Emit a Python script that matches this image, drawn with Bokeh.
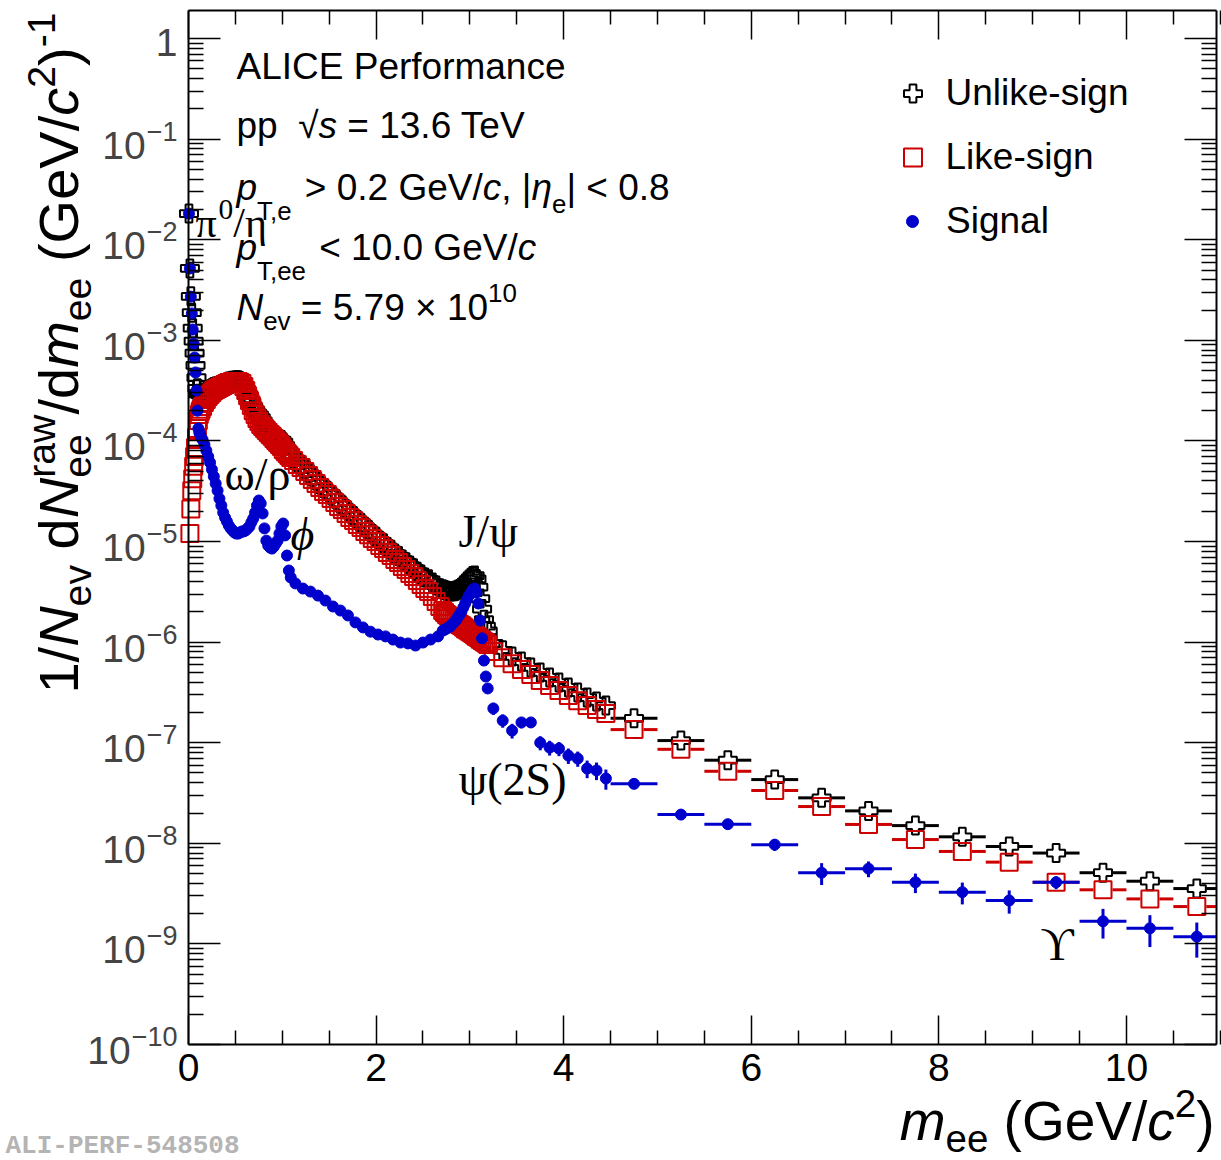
import numpy as np
from bokeh.plotting import figure
from bokeh.models import (Range1d, LogAxis, LinearAxis, FixedTicker, Label, Legend,
                          LegendItem, ColumnDataSource)
from bokeh.embed import file_html
from bokeh.resources import INLINE

# ---------------- data ----------------
# bin centres, GeV/c^2
XA = [0.005, 0.015, 0.025, 0.035, 0.045, 0.055, 0.065, 0.075, 0.085, 0.095, 0.105, 0.115, 0.125, 0.135]
XB = [0.15, 0.17, 0.19, 0.21, 0.23, 0.25, 0.27, 0.29, 0.31, 0.33, 0.35, 0.37, 0.39, 0.41, 0.43, 0.45,
      0.47, 0.49, 0.51, 0.53, 0.55, 0.57, 0.59, 0.61, 0.63, 0.65, 0.67, 0.69, 0.71, 0.73, 0.75, 0.77,
      0.79, 0.81, 0.83, 0.85, 0.87, 0.89, 0.91, 0.93, 0.95, 0.97, 0.99, 1.01, 1.03, 1.05, 1.07, 1.09]
XC = [1.12, 1.16, 1.20, 1.24, 1.28, 1.32, 1.36, 1.40, 1.44, 1.48, 1.52, 1.56, 1.60, 1.64, 1.68, 1.72,
      1.76, 1.80, 1.84, 1.88, 1.92, 1.96, 2.00, 2.04, 2.08, 2.12, 2.16, 2.20, 2.24, 2.28, 2.32, 2.36,
      2.40, 2.44, 2.48, 2.52, 2.56, 2.60, 2.64, 2.68]
XSC = [1.14, 1.22, 1.30, 1.38, 1.46, 1.54, 1.62, 1.70, 1.78, 1.86, 1.94, 2.02, 2.10, 2.18, 2.26, 2.34,
       2.42, 2.50, 2.58, 2.66]
XD = [2.71, 2.73, 2.75, 2.77, 2.79, 2.81, 2.83, 2.85, 2.87, 2.89, 2.91, 2.93, 2.95, 2.97, 2.99, 3.01,
      3.03, 3.05, 3.07, 3.09, 3.11, 3.13, 3.15, 3.17, 3.19]
XE = [3.25, 3.35, 3.45, 3.55, 3.65, 3.75, 3.85, 3.95, 4.05, 4.15, 4.25, 4.35, 4.45]
XF = [4.75, 5.25, 5.75, 6.25, 6.75, 7.25, 7.75, 8.25, 8.75, 9.25, 9.75, 10.25, 10.75]
# half bin widths
HW_A, HW_B, HW_C, HW_SC, HW_D, HW_E, HW_F = 0.005, 0.01, 0.02, 0.04, 0.01, 0.05, 0.25

NAN = float("nan")
# Unlike-sign
US_A = [1.82e-2, 5.19e-3, 2.74e-3, 1.88e-3, 1.32e-3, 9.84e-4, 7.45e-4, 5.64e-4, 4.25e-4, 3.33e-4,
        2.93e-4, 2.95e-4, 2.90e-4, 2.85e-4]
US_B = [2.82e-4, 2.96e-4, 3.06e-4, 3.18e-4, 3.26e-4, 3.34e-4, 3.44e-4, 3.47e-4, 3.51e-4, 3.56e-4,
        3.62e-4, 3.68e-4, 3.74e-4, 3.81e-4, 3.90e-4, 3.89e-4, 3.97e-4, 3.96e-4, 4.01e-4, 4.01e-4,
        3.93e-4, 3.85e-4, 3.61e-4, 3.30e-4, 2.96e-4, 2.66e-4, 2.41e-4, 2.17e-4, 2.02e-4, 1.90e-4,
        1.82e-4, 1.70e-4, 1.58e-4, 1.47e-4, 1.37e-4, 1.30e-4, 1.25e-4, 1.20e-4, 1.15e-4, 1.11e-4,
        1.07e-4, 1.04e-4, 1.02e-4, 9.71e-5, 9.00e-5, 8.23e-5, 7.68e-5, 7.28e-5]
US_C = [6.78e-5, 6.19e-5, 5.79e-5, 5.30e-5, 4.84e-5, 4.43e-5, 4.06e-5, 3.72e-5, 3.41e-5, 3.19e-5,
        2.92e-5, 2.68e-5, 2.45e-5, 2.29e-5, 2.09e-5, 1.91e-5, 1.79e-5, 1.64e-5, 1.53e-5, 1.40e-5,
        1.30e-5, 1.19e-5, 1.115e-5, 1.02e-5, 9.60e-6, 8.83e-6, 8.28e-6, 7.62e-6, 7.16e-6, 6.61e-6,
        6.23e-6, 5.76e-6, 5.42e-6, 5.02e-6, 4.69e-6, 4.39e-6, 4.21e-6, 3.91e-6, 3.65e-6, 3.43e-6]
US_D = [3.36e-6, 3.30e-6, 3.24e-6, 3.22e-6, 3.19e-6, 3.20e-6, 3.21e-6, 3.24e-6, 3.31e-6, 3.38e-6,
        3.47e-6, 3.62e-6, 3.78e-6, 3.98e-6, 4.19e-6, 4.36e-6, 4.55e-6, 4.59e-6, 4.25e-6, 3.53e-6,
        2.71e-6, 2.13e-6, 1.67e-6, 1.44e-6, 1.29e-6]
US_E = [9.7e-7, 8.3e-7, 7.2e-7, 6.4e-7, 5.6e-7, 5.0e-7, 4.45e-7, 3.96e-7, 3.54e-7, 3.15e-7, 2.81e-7,
        2.57e-7, 2.34e-7]
US_F = [1.75e-7, 1.05e-7, 6.7e-8, 4.3e-8, 2.83e-8, 2.1e-8, 1.5e-8, 1.16e-8, 9.3e-9, 8.0e-9, 5.1e-9,
        4.2e-9, 3.55e-9]
# Like-sign
LS_A = [NAN, 1.2e-5, 2.1e-5, 3.2e-5, 4.2e-5, 5.6e-5, 7.0e-5, 8.6e-5, 1.08e-4, 1.33e-4, 1.60e-4,
        1.83e-4, 1.96e-4, 2.07e-4]
LS_B = [2.20e-4, 2.41e-4, 2.58e-4, 2.76e-4, 2.89e-4, 3.03e-4, 3.17e-4, 3.24e-4, 3.32e-4, 3.40e-4,
        3.48e-4, 3.56e-4, 3.64e-4, 3.72e-4, 3.81e-4, 3.81e-4, 3.89e-4, 3.89e-4, 3.89e-4, 3.89e-4,
        3.81e-4, 3.72e-4, 3.48e-4, 3.17e-4, 2.82e-4, 2.52e-4, 2.25e-4, 2.00e-4, 1.83e-4, 1.67e-4,
        1.56e-4, 1.46e-4, 1.39e-4, 1.33e-4, 1.27e-4, 1.21e-4, 1.16e-4, 1.11e-4, 1.06e-4, 1.01e-4,
        9.64e-5, 9.20e-5, 8.80e-5, 8.20e-5, 7.85e-5, 7.50e-5, 7.16e-5, 6.84e-5]
LS_C = [6.38e-5, 5.82e-5, 5.44e-5, 4.97e-5, 4.53e-5, 4.13e-5, 3.77e-5, 3.44e-5, 3.14e-5, 2.93e-5,
        2.67e-5, 2.44e-5, 2.23e-5, 2.08e-5, 1.90e-5, 1.73e-5, 1.62e-5, 1.48e-5, 1.38e-5, 1.26e-5,
        1.17e-5, 1.07e-5, 1.00e-5, 9.12e-6, 8.51e-6, 7.78e-6, 7.26e-6, 6.62e-6, 6.18e-6, 5.64e-6,
        5.27e-6, 4.81e-6, 4.49e-6, 4.09e-6, 3.74e-6, 3.41e-6, 3.18e-6, 2.84e-6, 2.53e-6, 2.26e-6]
LS_D = [2.06e-6, 1.97e-6, 1.88e-6, 1.82e-6, 1.76e-6, 1.70e-6, 1.64e-6, 1.60e-6, 1.55e-6, 1.50e-6,
        1.46e-6, 1.41e-6, 1.36e-6, 1.33e-6, 1.29e-6, 1.25e-6, 1.22e-6, 1.18e-6, 1.14e-6, 1.11e-6,
        1.07e-6, 1.04e-6, 1.01e-6, 9.8e-7, 9.47e-7]
LS_E = [8.07e-7, 7.0e-7, 6.1e-7, 5.35e-7, 4.77e-7, 4.15e-7, 3.7e-7, 3.3e-7, 2.94e-7, 2.62e-7, 2.34e-7,
        2.14e-7, 1.95e-7]
LS_F = [1.35e-7, 8.6e-8, 5.2e-8, 3.35e-8, 2.32e-8, 1.54e-8, 1.09e-8, 8.3e-9, 6.5e-9, 4.1e-9, 3.45e-9,
        2.8e-9, 2.35e-9]
# Signal
SG_A = [1.82e-2, 5.18e-3, 2.72e-3, 1.85e-3, 1.28e-3, 9.29e-4, 6.75e-4, 4.79e-4, 3.17e-4, 2.00e-4,
        1.33e-4, 1.21e-4, 1.16e-4, 1.08e-4]
SG_B = [1.03e-4, 9.2e-5, 8.03e-5, 7.0e-5, 6.1e-5, 5.2e-5, 4.43e-5, 3.77e-5, 3.21e-5, 2.67e-5,
        2.28e-5, 1.94e-5, 1.73e-5, 1.58e-5, 1.44e-5, 1.35e-5, 1.29e-5, 1.23e-5, 1.20e-5, 1.20e-5,
        1.23e-5, 1.26e-5, 1.26e-5, 1.29e-5, 1.35e-5, 1.41e-5, 1.55e-5, 1.69e-5, 1.94e-5, 2.28e-5,
        2.56e-5, 2.39e-5, 1.90e-5, 1.35e-5, 1.02e-5, 9.12e-6, 8.71e-6, 8.51e-6, 8.91e-6, 9.55e-6,
        1.02e-5, 1.20e-5, 1.41e-5, 1.51e-5, 1.15e-5, 7.26e-6, 5.15e-6, 4.39e-6]
SG_C = [3.83e-6, 3.41e-6, 3.18e-6, 2.90e-6, 2.59e-6, 2.26e-6, 2.06e-6, 1.84e-6, 1.57e-6, 1.40e-6,
        1.27e-6, 1.19e-6, 1.14e-6, 1.06e-6, 9.9e-7, 9.7e-7, 9.25e-7, 9.9e-7, 1.06e-6, 1.14e-6]
SG_D = [1.30e-6, 1.33e-6, 1.36e-6, 1.40e-6, 1.43e-6, 1.50e-6, 1.57e-6, 1.64e-6, 1.76e-6, 1.88e-6,
        2.01e-6, 2.21e-6, 2.42e-6, 2.65e-6, 2.90e-6, 3.11e-6, 3.33e-6, 3.41e-6, 3.11e-6, 2.42e-6,
        1.64e-6, 1.09e-6, 6.56e-7, 4.55e-7, 3.46e-7]
SG_E = [2.19e-7, 1.66e-7, 1.32e-7, 1.59e-7, 1.59e-7, 1.0e-7, 8.95e-8, 8.75e-8, 7.45e-8, 6.96e-8,
        5.54e-8, 5.3e-8, 4.41e-8]
SG_E_ERR = [3.0e-8, 2.5e-8, 2.2e-8, 2.0e-8, 1.9e-8, 1.6e-8, 1.5e-8, 1.4e-8, 1.3e-8, 1.2e-8, 1.1e-8,
            1.05e-8, 1.0e-8]
SG_F = [3.9e-8, 1.93e-8, 1.55e-8, 9.7e-9, 5.1e-9, 5.6e-9, 4.1e-9, 3.27e-9, 2.7e-9, 4.1e-9, 1.68e-9,
        1.43e-9, 1.18e-9]
SG_F_ERR = [3.0e-9, 2.2e-9, 1.8e-9, 1.3e-9, 1.25e-9, 1.0e-9, 0.9e-9, 0.8e-9, 0.7e-9, 0.6e-9,
            0.55e-9, 0.5e-9, 0.45e-9]

Y_EXPONENTS = [0, -1, -2, -3, -4, -5, -6, -7, -8, -9, -10]
X_MAJOR = [0, 2, 4, 6, 8, 10]
SERIES_NAMES = ["Unlike-sign", "Like-sign", "Signal"]

# ---------------- assemble ----------------
x_bg = np.array(XA + XB + XC + XD + XE + XF)
hw_bg = np.array([HW_A] * len(XA) + [HW_B] * len(XB) + [HW_C] * len(XC) + [HW_D] * len(XD)
                 + [HW_E] * len(XE) + [HW_F] * len(XF))
us = np.array(US_A + US_B + US_C + US_D + US_E + US_F)
ls = np.array(LS_A + LS_B + LS_C + LS_D + LS_E + LS_F)
x_sg = np.array(XA + XB + XSC + XD + XE + XF)
sg = np.array(SG_A + SG_B + SG_C + SG_D + SG_E + SG_F)
x_sg_err = np.array(XE + XF)
hw_sg_err = np.array([HW_E] * len(XE) + [HW_F] * len(XF))
y_sg_err = np.array(SG_E + SG_F)
e_sg = np.array(SG_E_ERR + SG_F_ERR)

# ---------------- geometry ----------------
X_MIN, X_MAX = 0.0, 10.96
Y_MIN, Y_MAX = 1e-10, 1.9
W, H = 1221, 1160
FL, FR, FT, FB = 188, 1216, 10, 1044       # axis box inside the canvas (px)
SX = (FR - FL) / (X_MAX - X_MIN)           # px per GeV
SY = (FB - FT) / (np.log10(Y_MAX) - np.log10(Y_MIN))  # px per decade
x_lo = X_MIN - FL / SX
x_hi = X_MAX + (W - FR) / SX
y_lo = 10 ** (np.log10(Y_MIN) - (H - FB) / SY)
y_hi = 10 ** (np.log10(Y_MAX) + FT / SY)

SANS = "Liberation Sans"
SERIF = "Liberation Serif"
RED = "#cc0000"
BLUE = "#0000cc"

p = figure(width=W, height=H, x_range=Range1d(x_lo, x_hi), y_range=Range1d(y_lo, y_hi),
           y_axis_type="log", output_backend="svg", toolbar_location=None, min_border=0)
p.grid.visible = False
p.outline_line_color = None
p.background_fill_color = "white"
p.border_fill_color = "white"

x_minor = [m * 0.5 for m in range(0, 23) if m % 4 != 0]
y_major = [10.0 ** k for k in Y_EXPONENTS]
y_minor = [m * 10.0 ** k for k in Y_EXPONENTS for m in range(2, 10) if m * 10.0 ** k < Y_MAX]
xt = FixedTicker(ticks=X_MAJOR, minor_ticks=x_minor)
yt = FixedTicker(ticks=y_major, minor_ticks=y_minor)


def style_axis(ax, major, minor, loc, bounds, ticks=None):
    ax.fixed_location = loc
    ax.bounds = bounds
    ax.major_tick_in = major
    ax.major_tick_out = 0
    ax.minor_tick_in = minor
    ax.minor_tick_out = 0
    ax.axis_line_width = 2
    ax.axis_line_color = "black"
    ax.major_tick_line_width = 1.5
    ax.minor_tick_line_width = 1.5
    if ticks is not None:  # hide the axis' own labels
        ax.major_label_text_font_size = "1px"
        ax.major_label_standoff = 0
        ax.major_label_overrides = {t: "" for t in ticks}


xa = p.xaxis[0]
xa.ticker = xt
style_axis(xa, 29, 14, Y_MIN, (X_MIN, X_MAX))
xa.major_label_text_font = SANS
xa.major_label_text_font_size = "39px"
xa.major_label_standoff = 9
xa.major_label_text_color = "black"

ya = p.yaxis[0]
ya.ticker = yt
style_axis(ya, 32, 15, X_MIN, (Y_MIN, Y_MAX), ticks=y_major)

top = LinearAxis(ticker=xt)
style_axis(top, 29, 14, Y_MAX, (X_MIN, X_MAX), ticks=X_MAJOR)
p.add_layout(top, "above")
right = LogAxis(ticker=yt)
style_axis(right, 32, 15, X_MAX, (Y_MIN, Y_MAX), ticks=y_major)
p.add_layout(right, "right")


# ---------------- data glyphs ----------------
def gap_bars(x, y, hw, gap):
    m = (hw > gap) & np.isfinite(y)
    return dict(x0=np.concatenate([x[m] - hw[m], x[m] + gap]),
                x1=np.concatenate([x[m] - gap, np.minimum(x[m] + hw[m], X_MAX)]),
                y=np.concatenate([y[m], y[m]]))


# Unlike-sign
p.segment(x0="x0", y0="y", x1="x1", y1="y",
          source=ColumnDataSource(gap_bars(x_bg, us, hw_bg, 9.5 / SX)),
          line_color="black", line_width=3)
r_us = p.scatter(x_bg, us, marker="plus", size=18, line_color="black", line_width=2,
                 fill_color=None)
# Like-sign
p.segment(x0="x0", y0="y", x1="x1", y1="y",
          source=ColumnDataSource(gap_bars(x_bg, ls, hw_bg, 9.5 / SX)),
          line_color=RED, line_width=3)
r_ls = p.scatter(x_bg, ls, marker="square", size=17, line_color=RED, line_width=2, fill_color=None)
# Signal
p.segment(x0=x_sg_err - hw_sg_err, y0=y_sg_err, x1=np.minimum(x_sg_err + hw_sg_err, X_MAX),
          y1=y_sg_err, line_color=BLUE, line_width=3)
p.segment(x0=x_sg_err, y0=y_sg_err - e_sg, x1=x_sg_err, y1=y_sg_err + e_sg,
          line_color=BLUE, line_width=3)
r_sg = p.scatter(x_sg, sg, marker="circle", size=11, line_color=BLUE, fill_color=BLUE)

# ---------------- legend ----------------
LEG_X, LEG_Y = 912, [93, 157, 221]       # glyph centre column / row centres (px)
for name, r, gw, cy, standoff in [(SERIES_NAMES[0], r_us, 45, LEG_Y[0], 11),
                                  (SERIES_NAMES[1], r_ls, 45, LEG_Y[1], 11),
                                  (SERIES_NAMES[2], r_sg, 30, LEG_Y[2], 19)]:
    lg = Legend(items=[LegendItem(label=name, renderers=[r])],
                location=(LEG_X - gw / 2, H - (cy + 25)),
                glyph_width=gw, glyph_height=50, label_height=50, label_standoff=standoff,
                padding=0, margin=0, spacing=0, border_line_alpha=0, background_fill_alpha=0,
                label_text_font=SANS, label_text_font_size="37px", label_text_color="black")
    p.add_layout(lg)

# ---------------- text helpers ----------------
HELV = {' ': .278, '(': .333, ')': .333, ',': .278, '-': .333, '.': .278, '/': .278, '<': .584,
        '=': .584, '>': .584, '|': .26, '×': .584, '−': .584, '√': .549, 'A': .667, 'C': .722,
        'E': .667, 'G': .778, 'I': .278, 'L': .556, 'N': .722, 'P': .667, 'S': .667, 'T': .611,
        'U': .722, 'V': .667, 'a': .556, 'c': .5, 'd': .556, 'e': .556, 'f': .278, 'g': .556,
        'i': .222, 'k': .5, 'l': .222, 'm': .833, 'n': .556, 'o': .556, 'p': .556, 'r': .333,
        's': .5, 'v': .5, 'w': .722, 'η': .556}
TIMES = {' ': .25, 'π': .55, '0': .5, '/': .278, 'η': .5}
MID = 0.35   # distance (em) from baseline to the "middle" anchor


def tw(s, size, table=HELV):
    return sum(table.get(c, 0.556) for c in s) * size


def rich(segs, x, y, xo, yo, size, font=SANS, table=HELV, angle=0.0, align="left", color="black"):
    """segs: (text, italic, scale, dy_em, adv_em_or_None); xo/yo locate the baseline start."""
    items, adv = [], 0.0
    for seg in segs:
        text, it, scale, dy = seg[:4]
        advo = seg[4] if len(seg) > 4 else None
        fs = size * scale
        lead = len(text) - len(text.lstrip(" "))
        items.append((text.strip(" "), it, fs, dy * size, adv + tw(" " * lead, fs, table)))
        adv += tw(text, fs, table) if advo is None else advo * size
    start = -adv if align == "right" else 0.0
    for text, it, fs, d, a in items:
        a += start
        up = d + MID * fs
        if angle == 0:
            ox, oy = xo + a, yo + up
        else:
            ox, oy = xo - up, yo + a
        p.add_layout(Label(x=x, y=y, x_offset=float(ox), y_offset=float(oy), text=text,
                           text_font=font, text_font_size=f"{fs:.1f}px",
                           text_font_style="italic" if it else "normal", angle=float(angle),
                           text_align="left", text_baseline="middle", text_color=color))


# y tick labels
TK, TKE = 39, 27
for k in Y_EXPONENTS:
    v = 10.0 ** k
    if k == 0:
        p.add_layout(Label(x=X_MIN, y=v, x_offset=-11, y_offset=-4, text="1", text_font=SANS,
                           text_font_size=f"{TK}px", text_align="right", text_baseline="middle"))
    else:
        ex = "−%d" % (-k)
        p.add_layout(Label(x=X_MIN, y=v, x_offset=-11, y_offset=8, text=ex, text_font=SANS,
                           text_font_size=f"{TKE}px", text_align="right", text_baseline="middle"))
        p.add_layout(Label(x=X_MIN, y=v, x_offset=float(-11 - tw(ex, TKE) - 1), y_offset=-6,
                           text="10", text_font=SANS, text_font_size=f"{TK}px", text_align="right",
                           text_baseline="middle"))

# axis titles
rich([("1/", 0, 1, 0), ("N", 1, 1, 0), ("ev", 0, .7, -.22), (" d", 0, 1, 0), ("N", 1, 1, 0),
      ("raw", 0, .7, .42, 0), ("ee", 0, .7, -.22, 1.13), ("/d", 0, 1, 0), ("m", 1, 1, 0),
      ("ee", 0, .7, -.22), (" (GeV/", 0, 1, 0), ("c", 1, 1, 0), ("2", 0, .7, .42), (")", 0, 1, 0),
      ("-1", 0, .7, .42)],
     X_MIN, Y_MAX, -110, -2, 56, angle=np.pi / 2, align="right")
rich([("m", 1, 1, 0), ("ee", 0, .7, -.2), (" (GeV/", 0, 1, 0), ("c", 1, 1, 0), ("2", 0, .7, .42),
      (")", 0, 1, 0)],
     X_MAX, Y_MIN, -2, -96, 55, align="right")

# header text block
TS = 37
rich([("ALICE Performance", 0, 1, 0)], X_MIN, Y_MAX, 48, -69, TS)
rich([("pp  ", 0, 1, 0), ("√", 0, 1, 0), ("s", 1, 1, 0), (" = 13.6 TeV", 0, 1, 0)],
     X_MIN, Y_MAX, 48, -128, TS)
rich([("p", 1, 1, 0), ("T,e", 0, .7, -.54), (" > 0.2 GeV/", 0, 1, 0), ("c", 1, 1, 0), (", |", 0, 1, 0),
      ("η", 1, 1, 0), ("e", 0, .7, -.35), ("| < 0.8", 0, 1, 0)], X_MIN, Y_MAX, 48, -190, TS)
rich([("p", 1, 1, 0), ("T,ee", 0, .7, -.54), (" < 10.0 GeV/", 0, 1, 0), ("c", 1, 1, 0)],
     X_MIN, Y_MAX, 48, -250, TS)
rich([("N", 1, 1, 0), ("ev", 0, .7, -.27), (" = 5.79 × 10", 0, 1, 0), ("10", 0, .7, .49)],
     X_MIN, Y_MAX, 48, -310, TS)

# resonance labels (anchored at their baseline start, data coordinates)
RS = 46
rich([("π", 0, 1, 0), ("0", 0, .7, .42), ("/η", 0, 1, 0)], 0.096, 1.05e-2, -2, 0, 42,
     font=SERIF, table=TIMES)
for txt, xx, yy, it in [("ω/ρ", 0.384, 3.21e-5, 0), ("ϕ", 1.087, 8.15e-6, 1),
                        ("J/ψ", 2.878, 8.7e-6, 0), ("ψ(2S)", 2.878, 2.99e-8, 0),
                        ("ϒ", 9.083, 6.84e-10, 0)]:
    rich([(txt, it, 1, 0)], xx, yy, 0, 0, RS, font=SERIF, table=TIMES)

# watermark
p.add_layout(Label(x=X_MIN, y=Y_MIN, x_offset=-183, y_offset=-101, text="ALI-PERF-548508",
                   text_font="Liberation Mono", text_font_size="26px", text_font_style="bold",
                   text_color="#b4b4b4", text_baseline="middle"))

open("out.html", "w").write(file_html(p, INLINE))
